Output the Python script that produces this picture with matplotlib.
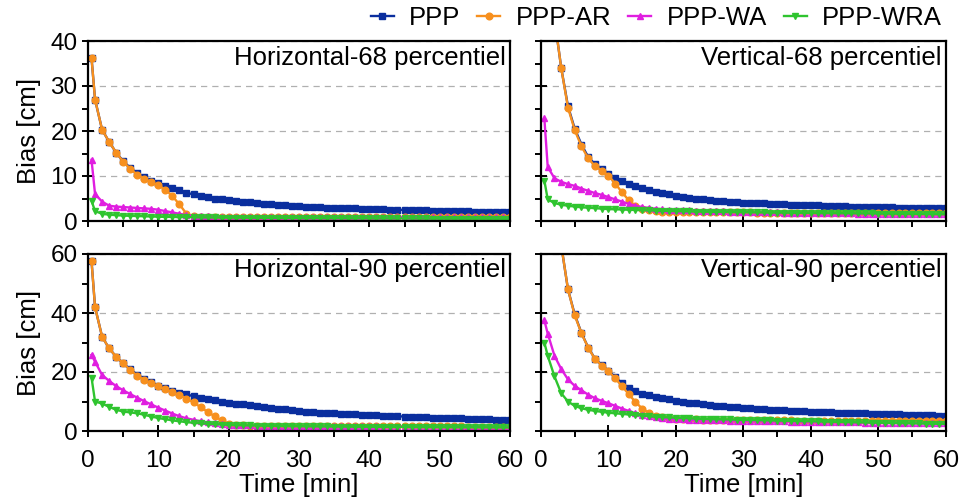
import matplotlib
matplotlib.use("Agg")
import matplotlib.pyplot as plt
from matplotlib.ticker import MultipleLocator

plt.rcParams['font.family'] = ['Liberation Sans', 'DejaVu Sans']

# ---------------------------------------------------------------- data --
# time of each epoch [min]
time_min = [0.5] + list(range(1, 61))

labels = ['PPP', 'PPP-AR', 'PPP-WA', 'PPP-WRA']

# Horizontal-68 percentiel [cm]
ppp_h68 = [36.2, 27.0, 20.3, 17.6, 15.2, 13.3, 11.8, 10.6, 9.7, 9.0,
           8.4, 7.8, 7.3, 6.8, 6.3, 5.9, 5.6, 5.3, 5.0, 4.8,
           4.6, 4.45, 4.3, 4.15, 4.0, 3.85, 3.7, 3.6, 3.5, 3.4,
           3.3, 3.2, 3.15, 3.1, 3.0, 2.95, 2.9, 2.85, 2.8, 2.75,
           2.7, 2.65, 2.6, 2.55, 2.5, 2.45, 2.42, 2.38, 2.35, 2.3,
           2.27, 2.24, 2.2, 2.17, 2.14, 2.1, 2.08, 2.05, 2.03, 2.0,
           1.98]
pppar_h68 = [36.2, 27.0, 20.3, 17.6, 15.2, 13.2, 11.6, 10.3, 9.3, 8.6,
             7.9, 7.0, 5.5, 3.7, 1.6, 1.05, 1.0, 1.0, 1.0, 1.0,
             1.0, 0.98, 0.98, 0.97, 0.97, 0.96, 0.96, 0.95, 0.95, 0.95,
             0.94, 0.94, 0.93, 0.93, 0.93, 0.92, 0.92, 0.92, 0.91, 0.91,
             0.91, 0.9, 0.9, 0.9, 0.9, 0.89, 0.89, 0.89, 0.88, 0.88,
             0.88, 0.88, 0.87, 0.87, 0.87, 0.87, 0.86, 0.86, 0.86, 0.86,
             0.85]
pppwa_h68 = [13.6, 6.0, 4.3, 3.4, 3.2, 3.1, 3.0, 2.9, 2.8, 2.7,
             2.5, 2.2, 1.9, 1.6, 1.3, 1.15, 1.1, 1.05, 1.0, 1.0,
             0.98, 0.97, 0.96, 0.96, 0.95, 0.95, 0.94, 0.94, 0.93, 0.93,
             0.92, 0.92, 0.91, 0.91, 0.91, 0.9, 0.9, 0.9, 0.89, 0.89,
             0.89, 0.88, 0.88, 0.88, 0.87, 0.87, 0.87, 0.86, 0.86, 0.86,
             0.85, 0.85, 0.85, 0.85, 0.84, 0.84, 0.84, 0.84, 0.83, 0.83,
             0.83]
pppwra_h68 = [4.5, 2.2, 1.6, 1.4, 1.3, 1.2, 1.15, 1.1, 1.05, 1.0,
              0.95, 0.92, 0.9, 0.88, 0.86, 0.84, 0.82, 0.8, 0.78, 0.77,
              0.76, 0.75, 0.74, 0.73, 0.72, 0.71, 0.7, 0.69, 0.68, 0.67,
              0.66, 0.65, 0.65, 0.64, 0.63, 0.63, 0.62, 0.61, 0.61, 0.6,
              0.6, 0.59, 0.59, 0.58, 0.58, 0.57, 0.57, 0.56, 0.56, 0.55,
              0.55, 0.55, 0.54, 0.54, 0.53, 0.53, 0.52, 0.52, 0.52, 0.51,
              0.5]

# Vertical-68 percentiel [cm]
ppp_v68 = [80, 62, 45, 34, 25.5, 20.5, 17.0, 14.2, 12.6, 11.5,
           10.5, 9.6, 8.9, 8.3, 7.8, 7.3, 6.9, 6.5, 6.2, 5.9,
           5.6, 5.4, 5.2, 5.0, 4.85, 4.7, 4.55, 4.4, 4.3, 4.2,
           4.1, 4.0, 3.95, 3.9, 3.85, 3.8, 3.72, 3.65, 3.6, 3.55,
           3.5, 3.45, 3.4, 3.35, 3.3, 3.26, 3.22, 3.18, 3.14, 3.1,
           3.07, 3.04, 3.01, 2.98, 2.95, 2.92, 2.89, 2.86, 2.83, 2.8,
           2.78]
pppar_v68 = [80, 62, 45, 34, 25.2, 20.2, 16.6, 13.9, 12.2, 11.2,
             10.1, 8.3, 6.4, 4.6, 3.4, 2.7, 2.4, 2.2, 2.1, 2.05,
             2.0, 2.0, 1.98, 1.97, 1.96, 1.95, 1.94, 1.93, 1.92, 1.91,
             1.9, 1.89, 1.88, 1.87, 1.86, 1.85, 1.84, 1.83, 1.82, 1.81,
             1.8, 1.8, 1.79, 1.78, 1.78, 1.77, 1.76, 1.76, 1.75, 1.75,
             1.74, 1.74, 1.73, 1.73, 1.72, 1.72, 1.71, 1.71, 1.7, 1.7,
             1.7]
pppwa_v68 = [22.8, 12.0, 9.5, 8.7, 8.2, 7.8, 7.2, 6.7, 6.2, 5.8,
             5.3, 4.8, 4.3, 3.8, 3.4, 3.1, 2.9, 2.75, 2.6, 2.5,
             2.45, 2.4, 2.35, 2.3, 2.26, 2.22, 2.18, 2.14, 2.1, 2.07,
             2.04, 2.01, 1.98, 1.95, 1.92, 1.9, 1.87, 1.85, 1.83, 1.81,
             1.79, 1.77, 1.75, 1.73, 1.71, 1.69, 1.68, 1.66, 1.65, 1.63,
             1.62, 1.6, 1.59, 1.58, 1.56, 1.55, 1.54, 1.53, 1.52, 1.51,
             1.5]
pppwra_v68 = [9.0, 4.8, 4.0, 3.6, 3.4, 3.2, 3.05, 2.95, 2.85, 2.75,
              2.65, 2.6, 2.55, 2.5, 2.45, 2.4, 2.36, 2.32, 2.28, 2.24,
              2.2, 2.17, 2.14, 2.11, 2.08, 2.06, 2.04, 2.02, 2.0, 1.98,
              1.96, 1.94, 1.92, 1.9, 1.88, 1.87, 1.85, 1.84, 1.82, 1.81,
              1.8, 1.78, 1.77, 1.76, 1.74, 1.73, 1.72, 1.7, 1.69, 1.68,
              1.66, 1.65, 1.64, 1.62, 1.61, 1.6, 1.58, 1.57, 1.55, 1.53,
              1.5]

# Horizontal-90 percentiel [cm]
ppp_h90 = [57.6, 42.0, 32.0, 28.0, 25.2, 22.9, 20.9, 19.1, 17.7, 16.5,
           15.4, 14.5, 13.7, 13.0, 12.4, 11.8, 11.3, 10.8, 10.4, 10.0,
           9.6, 9.3, 9.0, 8.7, 8.4, 8.1, 7.8, 7.5, 7.3, 7.0,
           6.8, 6.6, 6.4, 6.25, 6.1, 5.95, 5.8, 5.7, 5.6, 5.5,
           5.4, 5.3, 5.2, 5.1, 5.0, 4.9, 4.8, 4.72, 4.64, 4.56,
           4.48, 4.4, 4.32, 4.24, 4.16, 4.08, 4.0, 3.92, 3.84, 3.77,
           3.7]
pppar_h90 = [57.6, 42.0, 32.0, 28.0, 25.2, 22.9, 20.7, 18.7, 17.3, 16.2,
             15.1, 14.1, 13.1, 12.1, 11.0, 9.7, 8.1, 6.5, 5.0, 3.6,
             2.5, 2.0, 1.9, 1.85, 1.82, 1.8, 1.78, 1.76, 1.74, 1.72,
             1.7, 1.69, 1.68, 1.67, 1.66, 1.65, 1.64, 1.63, 1.62, 1.61,
             1.6, 1.6, 1.59, 1.58, 1.58, 1.57, 1.56, 1.56, 1.55, 1.55,
             1.54, 1.54, 1.53, 1.53, 1.52, 1.52, 1.51, 1.51, 1.5, 1.5,
             1.5]
pppwa_h90 = [25.8, 23.5, 19.0, 17.0, 15.2, 13.8, 12.5, 11.3, 10.1, 9.0,
             7.9, 6.9, 5.9, 5.0, 4.3, 3.8, 3.3, 2.9, 2.6, 2.3,
             2.1, 2.0, 1.95, 1.9, 1.86, 1.82, 1.79, 1.76, 1.73, 1.7,
             1.68, 1.66, 1.64, 1.62, 1.6, 1.59, 1.58, 1.57, 1.56, 1.55,
             1.54, 1.53, 1.52, 1.51, 1.5, 1.49, 1.48, 1.47, 1.46, 1.46,
             1.45, 1.45, 1.44, 1.44, 1.43, 1.43, 1.42, 1.42, 1.41, 1.41,
             1.4]
pppwra_h90 = [18.1, 10.0, 9.3, 8.2, 7.2, 6.6, 6.3, 6.0, 5.5, 4.9,
              4.4, 4.0, 3.6, 3.3, 3.0, 2.8, 2.6, 2.45, 2.3, 2.2,
              2.1, 2.02, 1.95, 1.9, 1.85, 1.8, 1.76, 1.72, 1.69, 1.66,
              1.63, 1.6, 1.58, 1.56, 1.54, 1.52, 1.5, 1.48, 1.46, 1.44,
              1.43, 1.42, 1.4, 1.39, 1.38, 1.37, 1.36, 1.35, 1.34, 1.33,
              1.32, 1.31, 1.3, 1.29, 1.28, 1.27, 1.26, 1.25, 1.24, 1.22,
              1.2]

# Vertical-90 percentiel [cm]
ppp_v90 = [110, 95, 78, 63, 48, 39.5, 33.2, 28.3, 24.5, 22.3,
           20.4, 18.2, 16.2, 14.6, 13.5, 12.7, 12.1, 11.6, 11.1, 10.7,
           10.3, 9.95, 9.65, 9.35, 9.05, 8.8, 8.6, 8.4, 8.2, 8.0,
           7.8, 7.65, 7.5, 7.35, 7.2, 7.1, 7.0, 6.9, 6.8, 6.7,
           6.6, 6.5, 6.42, 6.34, 6.26, 6.18, 6.1, 6.02, 5.95, 5.88,
           5.81, 5.74, 5.67, 5.6, 5.53, 5.46, 5.4, 5.34, 5.28, 5.22,
           5.16]
pppar_v90 = [110, 95, 78, 63, 48, 39.2, 33.1, 28.2, 24.4, 22.2,
             20.3, 17.8, 15.2, 12.5, 9.8, 7.6, 6.1, 5.2, 4.6, 4.3,
             4.1, 4.0, 3.95, 3.9, 3.85, 3.8, 3.78, 3.76, 3.74, 3.72,
             3.7, 3.68, 3.66, 3.64, 3.62, 3.6, 3.58, 3.56, 3.54, 3.52,
             3.5, 3.49, 3.48, 3.47, 3.46, 3.45, 3.44, 3.43, 3.42, 3.41,
             3.4, 3.39, 3.38, 3.37, 3.36, 3.35, 3.34, 3.33, 3.32, 3.31,
             3.3]
pppwa_v90 = [37.5, 33.0, 25.5, 21.0, 17.5, 15.3, 13.8, 12.3, 11.1, 10.2,
             9.4, 8.5, 7.6, 6.8, 6.0, 5.4, 5.0, 4.6, 4.3, 4.1,
             4.0, 3.9, 3.8, 3.75, 3.7, 3.65, 3.6, 3.56, 3.52, 3.48,
             3.44, 3.4, 3.36, 3.33, 3.3, 3.27, 3.24, 3.21, 3.18, 3.15,
             3.12, 3.09, 3.06, 3.03, 3.0, 2.97, 2.94, 2.91, 2.88, 2.85,
             2.82, 2.8, 2.77, 2.74, 2.72, 2.69, 2.67, 2.65, 2.62, 2.6,
             2.58]
pppwra_v90 = [30.0, 25.5, 18.5, 12.8, 10.0, 8.5, 7.7, 7.2, 6.8, 6.5,
              6.2, 6.0, 5.8, 5.6, 5.4, 5.2, 5.0, 4.8, 4.7, 4.6,
              4.5, 4.4, 4.3, 4.2, 4.1, 4.05, 4.0, 3.95, 3.9, 3.85,
              3.8, 3.75, 3.7, 3.65, 3.6, 3.55, 3.5, 3.45, 3.4, 3.35,
              3.3, 3.25, 3.2, 3.15, 3.1, 3.05, 3.0, 2.95, 2.9, 2.85,
              2.8, 2.76, 2.72, 2.68, 2.64, 2.6, 2.56, 2.52, 2.48, 2.44,
              2.4]

# ------------------------------------------------------------- styling --
colors = ['#0A2E9E', '#F7901E', '#E01EE0', '#2FC42F']
markers = ['s', 'o', '^', 'v']

fig = plt.figure(figsize=(9.65, 5.0), dpi=100)

panels = [
    # title, series, position, ymax, ymajor, show x labels, show y labels
    ('Horizontal-68 percentiel', [ppp_h68, pppar_h68, pppwa_h68, pppwra_h68],
     [0.0912, 0.558, 0.4373, 0.360], 40, 10, False, True),
    ('Vertical-68 percentiel', [ppp_v68, pppar_v68, pppwa_v68, pppwra_v68],
     [0.5606, 0.558, 0.4197, 0.360], 40, 10, False, False),
    ('Horizontal-90 percentiel', [ppp_h90, pppar_h90, pppwa_h90, pppwra_h90],
     [0.0912, 0.138, 0.4373, 0.354], 60, 20, True, True),
    ('Vertical-90 percentiel', [ppp_v90, pppar_v90, pppwa_v90, pppwra_v90],
     [0.5606, 0.138, 0.4197, 0.354], 60, 20, True, False),
]

handles = []
for title, series, pos, ymax, ymaj, xlab, ylab in panels:
    ax = fig.add_axes(pos)
    lines = []
    for vals, c, m, lab in zip(series, colors, markers, labels):
        ln, = ax.plot(time_min, vals, color=c, marker=m, markersize=4.8,
                      lw=1.7, label=lab)
        lines.append(ln)
    if not handles:
        handles = lines
    ax.set_xlim(0, 60)
    ax.set_ylim(0, ymax)
    ax.xaxis.set_major_locator(MultipleLocator(10))
    ax.xaxis.set_minor_locator(MultipleLocator(5))
    ax.yaxis.set_major_locator(MultipleLocator(ymaj))
    ax.yaxis.set_minor_locator(MultipleLocator(ymaj / 2))
    ax.yaxis.grid(True, which='major', ls=(0, (5, 4)), color='#b0b0b0', lw=0.9)
    ax.set_axisbelow(True)
    for sp in ax.spines.values():
        sp.set_linewidth(1.6)
    ax.tick_params(which='major', direction='inout', length=9, width=1.4,
                   labelsize=17.5, top=False, right=False)
    ax.tick_params(which='minor', direction='out', length=4, width=1.4,
                   top=False, right=False)
    ax.tick_params(axis='x', which='major', pad=9)
    ax.tick_params(axis='y', which='major', pad=3)
    if not xlab:
        ax.tick_params(labelbottom=False)
    else:
        ax.set_xlabel('Time [min]', fontsize=18.5, labelpad=1)
    if not ylab:
        ax.tick_params(labelleft=False)
    else:
        ax.set_ylabel('Bias [cm]', fontsize=18.5, labelpad=7)
    ax.text(0.99, 0.975, title, transform=ax.transAxes, ha='right',
            va='top', fontsize=18.5)

fig.legend(handles, labels, ncol=4, loc='center right',
           bbox_to_anchor=(942 / 965, 1 - 18 / 500), frameon=False,
           fontsize=18.5, handlelength=0.9, handletextpad=0.6,
           columnspacing=0.65, borderpad=0, borderaxespad=0)

fig.savefig('out.png', dpi=100)
